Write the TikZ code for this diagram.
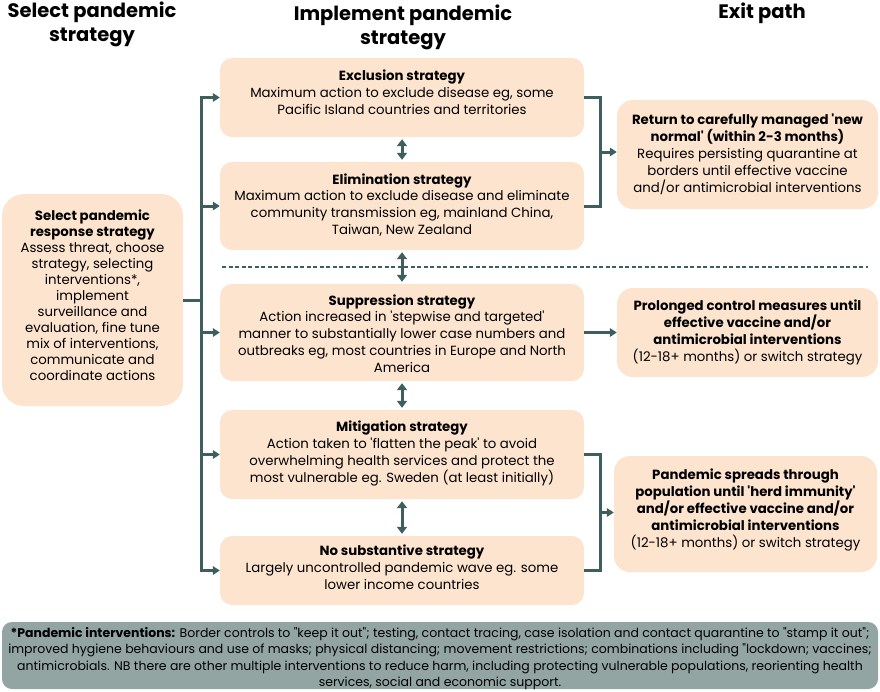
\documentclass[tikz,border=0pt]{standalone}
\usepackage{fontspec}
\setmainfont{Poppins}[Ligatures=TeXOff]
\usetikzlibrary{arrows.meta}
\definecolor{peach}{HTML}{FDE4CF}
\definecolor{lineteal}{HTML}{3E5F5E}
\definecolor{footgray}{HTML}{93A5A2}
\begin{document}
\begin{tikzpicture}[x=1pt,y=-1pt,
  box/.style={fill=peach, rounded corners=12pt, inner sep=0pt},
  txt/.style={inner sep=0pt, align=center, font=\fontsize{13.3}{16.8}\selectfont},
  hdr/.style={align=center, inner sep=0pt, font=\fontsize{19.5}{24}\selectfont\bfseries},
  conn/.style={draw=lineteal, line width=3pt, -{Triangle[length=7pt,width=8.5pt]}},
  plain/.style={draw=lineteal, line width=3pt},
  dbl/.style={draw=lineteal, line width=3pt, {Triangle[length=7pt,width=10pt]}-{Triangle[length=7pt,width=10pt]}, shorten >=2pt, shorten <=2pt},
  foot/.style={fill=footgray, rounded corners=10pt, inner sep=0pt},
  foottxt/.style={inner sep=0pt, align=center, font=\fontsize{12.5}{16.5}\selectfont}
]
\useasboundingbox (0,0) rectangle (880,691);

% headers
\node[hdr] (h1) at (92,24) {Select pandemic\\strategy};
\node[hdr] (h2) at (403,27) {Implement pandemic\\strategy};
\node[hdr] (h3) at (762,13) {Exit path};

% left box
\node[box, minimum width=181pt, minimum height=212pt, rounded corners=22pt] (left) at (92.5,300) {};
\node[txt, font=\fontsize{13.3}{16}\selectfont] (leftT) at ([yshift=5pt]left.center)
 {\textbf{Select pandemic}\\\textbf{response strategy}\\Assess threat, choose\\strategy, selecting\\interventions*,\\implement\\surveillance and\\evaluation, fine tune\\mix of interventions,\\communicate and\\coordinate actions};

% middle boxes
\node[box, minimum width=364pt, minimum height=79pt] (excl) at (402,97.5) {};
\node[txt] (exclT) at ([yshift=5pt]excl.center)
 {\textbf{Exclusion strategy}\\Maximum action to exclude disease eg, some\\Pacific Island countries and territories};
\node[box, minimum width=364pt, minimum height=88pt] (elim) at (402,206) {};
\node[txt] (elimT) at ([yshift=1pt]elim.center)
 {\textbf{Elimination strategy}\\Maximum action to exclude disease and eliminate\\community transmission eg, mainland China,\\Taiwan, New Zealand};
\node[box, minimum width=364pt, minimum height=97pt] (supp) at (402,332.5) {};
\node[txt] (suppT) at ([yshift=-1pt]supp.center)
 {\textbf{Suppression strategy}\\Action increased in 'stepwise and targeted'\\manner to substantially lower case numbers and\\outbreaks eg, most countries in Europe and North\\America};
\node[box, minimum width=364pt, minimum height=89pt] (miti) at (402,454.5) {};
\node[txt] (mitiT) at ([yshift=1pt]miti.center)
 {\textbf{Mitigation strategy}\\Action taken to 'flatten the peak' to avoid\\overwhelming health services and protect the\\most vulnerable eg. Sweden (at least initially)};
\node[box, minimum width=364pt, minimum height=69pt] (nosub) at (402,570.5) {};
\node[txt] (nosubT) at ([yshift=3pt]nosub.center)
 {\textbf{No substantive strategy}\\Largely uncontrolled pandemic wave eg. some\\lower income countries};

% exit boxes
\node[box, minimum width=261pt, minimum height=109pt, rounded corners=16pt] (exit1) at (747.5,154.5) {};
\node[txt, font=\fontsize{13.3}{17}\selectfont] (exit1T) at (exit1.center)
 {\textbf{Return to carefully managed 'new}\\\textbf{normal' (within 2-3 months)}\\Requires persisting quarantine at\\borders until effective vaccine\\and/or antimicrobial interventions};
\node[box, minimum width=261pt, minimum height=89pt, rounded corners=16pt] (exit2) at (747.5,332.5) {};
\node[txt, font=\fontsize{13.3}{17}\selectfont] (exit2T) at (exit2.center)
 {\textbf{Prolonged control measures until}\\\textbf{effective vaccine and/or}\\\textbf{antimicrobial interventions}\\(12-18+ months) or switch strategy};
\node[box, minimum width=263pt, minimum height=116pt, rounded corners=16pt] (exit3) at (745.5,514) {};
\node[txt, font=\fontsize{13.3}{17}\selectfont] (exit3T) at ([yshift=4pt]exit3.center)
 {\textbf{Pandemic spreads through}\\\textbf{population until 'herd immunity'}\\\textbf{and/or effective vaccine and/or}\\\textbf{antimicrobial interventions}\\(12-18+ months) or switch strategy};

% footnote
\node[foot, minimum width=876pt, minimum height=67pt] (fn) at (440,655.5) {};
\node[foottxt] (fnT) at ([yshift=-3pt]fn.center)
 {\textbf{*Pandemic interventions:} Border controls to "keep it out"; testing, contact tracing, case isolation and contact quarantine to "stamp it out";\\improved hygiene behaviours and use of masks; physical distancing; movement restrictions; combinations including "lockdown; vaccines;\\antimicrobials. NB there are other multiple interventions to reduce harm, including protecting vulnerable populations, reorienting health\\services, social and economic support.};

% dashed divider
\coordinate (d1) at (222,267);
\coordinate (d2) at (868,267);
\draw[lineteal, line width=1.1pt, dash pattern=on 4pt off 2.5pt] (d1) -- (d2);

% trunk
\coordinate (tj) at (201,300);
\draw[plain] (left.east) -- (tj);
\draw[conn] (tj) |- (excl.west);
\draw[conn] (tj) |- (elim.west);
\draw[conn] (tj) |- (supp.west);
\draw[conn] (tj) |- (miti.west);
\draw[conn] (tj) |- (nosub.west);

% double arrows
\draw[dbl] (excl.south) -- (elim.north);
\draw[dbl] (elim.south) -- (supp.north);
\draw[dbl] (supp.south) -- (miti.north);
\draw[dbl] (miti.south) -- (nosub.north);

% brackets to exits
\coordinate (b1) at (600,152);
\draw[plain] (excl.east) -| (b1) |- (elim.east);
\draw[conn] (b1) -- (b1 -| exit1.west);
\draw[conn] (supp.east) -- (exit2.west);
\coordinate (b2) at (600,512.5);
\draw[plain] (miti.east) -| (b2) |- (nosub.east);
\draw[conn] (b2) -- (b2 -| exit3.west);
\end{tikzpicture}
\end{document}
